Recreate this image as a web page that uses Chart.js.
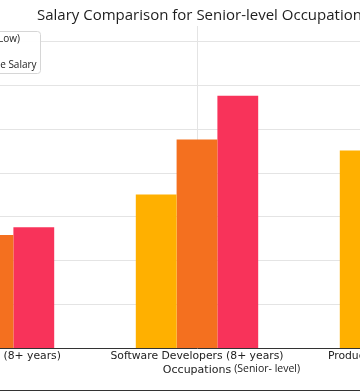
<!DOCTYPE html>
<html>
<head>
<meta charset="utf-8">
<script src="https://cdn.jsdelivr.net/npm/chart.js@4.4.1/dist/chart.umd.min.js"></script>
<style>
  html, body { margin: 0; padding: 0; background: #fff; overflow: hidden; }
  body { width: 360px; height: 391px; position: relative; }
  #salaryChart { position: absolute; left: -160px; top: 0; }
</style>
</head>
<body>
<canvas id="salaryChart" width="726" height="391"></canvas>
<script>
const occupations = ['Data Analysts (8+ years)', 'Software Developers (8+ years)', 'Product Owners (8+ years)'];
const seriesNames = ['Entry (Low)', 'Mid', 'Average Salary'];
const salaryLow = [45000, 70000, 90000];
const salaryMid = [51500, 95000, 115000];
const salaryHigh = [55000, 115000, 140000];
const yTicks = [20000, 40000, 60000, 80000, 100000, 120000, 140000];
const colores = ['#ffb000', '#f4701f', '#f8335a'];
const tituloTexto = 'Salary Comparison for Senior-level Occupations';
const axisNote = '(Senior- level)';

const extras = {
  id: 'extras',
  beforeDatasetsDraw(chart) {
    // lineas horizontales de la cuadricula
    const { ctx, chartArea, scales } = chart;
    ctx.save();
    ctx.strokeStyle = '#e4e4e4';
    ctx.lineWidth = 1;
    yTicks.forEach(v => {
      const y = Math.round(scales.y.getPixelForValue(v)) + 0.5;
      ctx.beginPath();
      ctx.moveTo(chartArea.left, y);
      ctx.lineTo(chartArea.right, y);
      ctx.stroke();
    });
    ctx.restore();
  },
  afterDraw(chart) {
    const { ctx, chartArea } = chart;
    ctx.save();
    ctx.textBaseline = 'middle';
    ctx.textAlign = 'left';

    // titulo
    ctx.font = '15px "Open Sans"';
    ctx.fillStyle = '#1e1e1e';
    ctx.fillText(tituloTexto, 197, 15.5);

    // texto pequeño al lado del titulo del eje
    ctx.font = '11px "DejaVu Sans"';
    const w = ctx.measureText('Occupations').width;
    const cx = (chartArea.left + chartArea.right) / 2;
    ctx.font = '10.5px "Open Sans"';
    ctx.fillStyle = '#222';
    ctx.fillText(axisNote, cx + w / 2 + 3, 369.5);

    // leyenda dentro del area
    ctx.font = '10px "Open Sans"';
    const textX = 180 - ctx.measureText(seriesNames[0]).width;
    const boxL = textX - 40, boxR = 200, boxT = 31, boxB = 73;
    ctx.fillStyle = 'rgba(255,255,255,0.95)';
    ctx.strokeStyle = '#d6d6d6';
    ctx.lineWidth = 1;
    ctx.beginPath();
    ctx.roundRect(boxL + 0.5, boxT + 0.5, boxR - boxL, boxB - boxT, 3);
    ctx.fill();
    ctx.stroke();
    const ys = [39, 52, 65.5];
    seriesNames.forEach((name, i) => {
      ctx.fillStyle = colores[i];
      ctx.fillRect(textX - 28, ys[i] - 3.5, 20, 7);
      ctx.fillStyle = '#222';
      ctx.fillText(name, textX, ys[i]);
    });

    // borde inferior de la imagen
    ctx.strokeStyle = '#333';
    ctx.beginPath();
    ctx.moveTo(0, 390.5);
    ctx.lineTo(chart.width, 390.5);
    ctx.stroke();
    ctx.restore();
  }
};

new Chart(document.getElementById('salaryChart').getContext('2d'), {
  type: 'bar',
  data: {
    labels: occupations,
    datasets: [
      { label: seriesNames[0], data: salaryLow, backgroundColor: colores[0] },
      { label: seriesNames[1], data: salaryMid, backgroundColor: colores[1] },
      { label: seriesNames[2], data: salaryHigh, backgroundColor: colores[2] }
    ]
  },
  options: {
    responsive: false,
    animation: false,
    layout: { padding: { left: 0, right: 63, top: 26, bottom: 0 } },
    datasets: { bar: { categoryPercentage: 0.6, barPercentage: 1.0 } },
    plugins: {
      legend: { display: false },
      tooltip: { enabled: false },
      title: { display: false }
    },
    scales: {
      x: {
        afterFit: (s) => { s.height = 43; },
        grid: { color: '#e4e4e4', offset: false, drawTicks: false },
        border: { color: '#333', width: 1 },
        ticks: {
          color: '#222', padding: 2, maxRotation: 0, autoSkip: false,
          font: { family: '"DejaVu Sans"', size: 10.8 }
        },
        title: {
          display: true, text: 'Occupations', color: '#222',
          font: { family: '"DejaVu Sans"', size: 11 },
          padding: { top: 2, bottom: 14 }
        }
      },
      y: {
        min: 0,
        max: 146800,
        afterFit: (s) => { s.width = 51; },
        grid: { display: false },
        border: { display: false },
        ticks: { display: false, stepSize: 20000 }
      }
    }
  },
  plugins: [extras]
});
</script>
</body>
</html>
